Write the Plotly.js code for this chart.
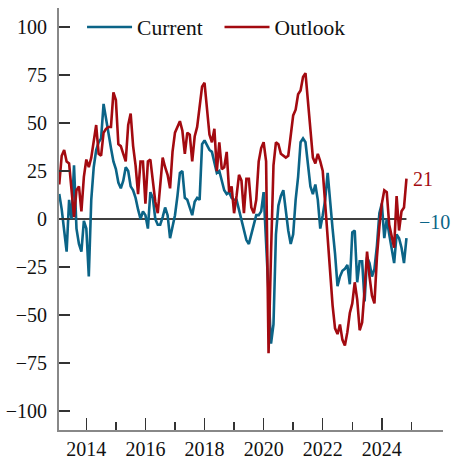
<!DOCTYPE html>
<html>
<head>
<meta charset="utf-8">
<script src="https://cdn.plot.ly/plotly-3.0.1.min.js"></script>
<style>html,body{margin:0;padding:0;background:#fff;}#chart{width:453px;height:459px;}</style>
</head>
<body>
<div id="chart"></div>
<script>
// Monthly series, starting February 2013
var startYear = 2013;
var startMonth = 2;
var current = [
  13, 5, -6, -17, 10, 0, 28, -5, -13, -17, -1, -5,
  -30, 10, 27, 36, 40, 42, 60, 52, 43, 37, 30, 26,
  19, 16, 20, 27, 25, 17, 15, 11, 5, 0, 4, 2,
  -5, 14, 11, 0, -3, -3, 1, 6, 2, -10, -4, 2,
  12, 24, 25, 11, 10, 6, 2, 9, 11, 10, 39, 41,
  38, 36, 35, 30, 24, 25, 20, 15, 13, 14, 11, 10,
  10, 5, 0, -5, -11, -13, -8, -2, 2, 2, 4, 14,
  -12, -38, -65, -55, -8, 7, 12, 15, 4, -6, -13, -8,
  10, 22, 40, 42, 40, 30, 17, 13, 18, 10, -5, 2,
  10, 24, 8, -5, -18, -35, -30, -27, -26, -24, -34, -7,
  -6, -33, -22, -22, -43, -20, -23, -30, -26, -14, 3, 8,
  -10, 0, -8, -15, -23, -8, -10, -15, -23, -10
];
var outlook = [
  18, 33, 36, 30, 29, 15, 1, 15, 17, 4, 22, 31,
  27, 32, 40, 49, 34, 33, 45, 47, 48, 48, 66, 62,
  39, 38, 34, 30, 49, 55, 38, 28, 13, 30, 30, 8,
  30, 31, 20, 9, 3, 16, 32, 27, 23, 16, 35, 45,
  48, 51, 46, 34, 45, 44, 30, 43, 48, 58, 69, 71,
  58, 44, 40, 47, 25, 40, 26, 27, 35, 14, 17, 3,
  12, 23, 20, 3, 21, 21, 6, 3, 10, 30, 37, 40,
  30, -70, -18, 28, 40, 39, 34, 33, 32, 33, 45, 54,
  57, 65, 67, 74, 76, 62, 48, 32, 29, 34, 30, 25,
  8, -10, -28, -45, -57, -60, -55, -63, -66, -59, -49, -44,
  -33, -42, -58, -54, -37, -17, -30, -40, -44, -20, -4, 8,
  15, 14, -3, -10, -15, 12, -6, 4, 6, 21
];
var seriesNames = ["Current", "Outlook"];
var yTickVals = [-100, -75, -50, -25, 0, 25, 50, 75, 100];
var xTickVals = [2014, 2016, 2018, 2020, 2022, 2024];
var xMinorVals = [2015, 2017, 2019, 2021, 2023, 2025];

var blue = "#0b6487";
var red = "#a30a10";
var serif = "Liberation Serif, Times New Roman, serif";

var x = current.map(function (v, k) { return startYear + (startMonth - 1 + k) / 12; });
var lastX = x[x.length - 1];
function fmt(v) { return v < 0 ? "\u2212" + Math.abs(v) : String(v); }

var traces = [
  { x: x, y: current, name: seriesNames[0], type: "scatter", mode: "lines",
    line: { color: blue, width: 2.6 }, legend: "legend" },
  { x: x, y: outlook, name: seriesNames[1], type: "scatter", mode: "lines",
    line: { color: red, width: 2.6 }, legend: "legend2" }
];

function legendAt(px) {
  return {
    orientation: "h", x: px, y: 0.955, xanchor: "left", yanchor: "middle",
    font: { family: serif, size: 21.5, color: "#111" },
    bgcolor: "rgba(0,0,0,0)", itemwidth: 45
  };
}

var layout = {
  width: 453, height: 459,
  margin: { l: 59, r: 10, t: 8, b: 29, pad: 0, autoexpand: false },
  paper_bgcolor: "#fff", plot_bgcolor: "#fff",
  font: { family: serif, size: 20, color: "#111" },
  showlegend: true,
  legend: legendAt(0.06),
  legend2: legendAt(0.418),
  xaxis: {
    range: [2013.075, 2026.07], showgrid: false, zeroline: false,
    showline: true, linecolor: "#888", linewidth: 2,
    tickmode: "array", tickvals: xTickVals, ticktext: xTickVals.map(String),
    ticks: "inside", ticklen: 12, tickwidth: 1.5, tickcolor: "#333",
    tickfont: { family: serif, size: 20, color: "#111" },
    minor: { tickmode: "array", tickvals: xMinorVals, ticks: "inside", ticklen: 8, tickwidth: 1.5, tickcolor: "#333" }
  },
  yaxis: {
    range: [-110, 110], showgrid: false, zeroline: false,
    showline: true, linecolor: "#888", linewidth: 2,
    tickmode: "array", tickvals: yTickVals, ticktext: yTickVals.map(fmt),
    ticks: "inside", ticklen: 11, tickwidth: 1.5, tickcolor: "#333",
    ticklabelstandoff: 6,
    tickfont: { family: serif, size: 20, color: "#111" }
  },
  shapes: [
    { type: "line", xref: "x", yref: "y", x0: 2013.075, x1: lastX, y0: 0, y1: 0,
      line: { color: "#000", width: 1.5 }, layer: "below" }
  ],
  annotations: [
    { x: lastX, y: outlook[outlook.length - 1], xref: "x", yref: "y", text: fmt(outlook[outlook.length - 1]),
      showarrow: false, xanchor: "left", yanchor: "middle", xshift: 5,
      font: { family: serif, size: 20, color: red } },
    { x: lastX, y: current[current.length - 1], xref: "x", yref: "y", text: fmt(current[current.length - 1]),
      showarrow: false, xanchor: "left", yanchor: "middle", xshift: 11, yshift: 16,
      font: { family: serif, size: 20, color: blue } }
  ]
};

Plotly.newPlot("chart", traces, layout, { displayModeBar: false, staticPlot: true });
</script>
</body>
</html>
